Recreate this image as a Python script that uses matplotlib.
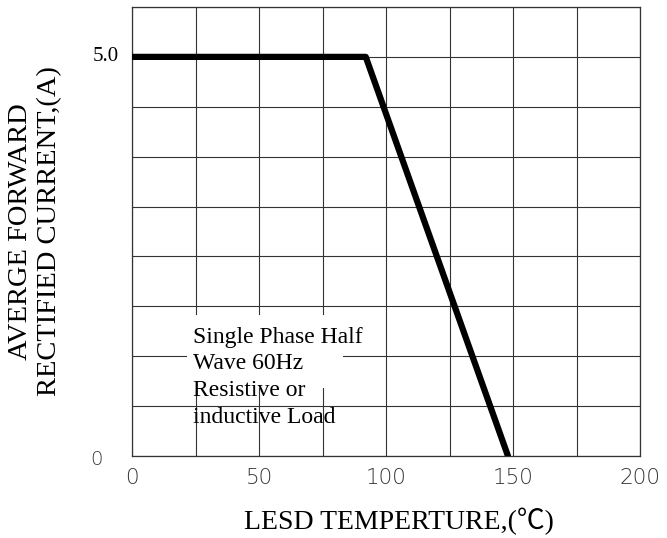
import matplotlib
matplotlib.use("Agg")
import matplotlib.pyplot as plt
from matplotlib.patches import Rectangle
from matplotlib.transforms import blended_transform_factory

# derating curve
temp = [0, 92, 148]
current = [5.0, 5.0, 0.0]

x_ticks = [0, 50, 100, 150, 200]
x_grid = [0, 25, 50, 75, 100, 125, 150, 175, 200]
y_grid = [0.625 * i for i in range(10)]
y_labels = {5.0: "5.0", 0.0: "0"}

note_lines = ["Single Phase Half", "Wave 60Hz", "Resistive or", "inductive Load"]

serif = ["Liberation Serif", "Noto Sans CJK SC", "DejaVu Sans"]
thin = "DejaVu Sans"

fig = plt.figure(figsize=(6.67, 5.38), dpi=100)
ax = fig.add_axes([0.198, 0.1524, 0.7616, 0.8346])

ax.set_xlim(0, 200)
ax.set_ylim(0, 5.625)
ax.set_xticks(x_grid)
ax.set_yticks(y_grid)
ax.grid(True, color="#333333", linewidth=0.8)
ax.tick_params(length=0, labelleft=False, labelbottom=False)
for s in ax.spines.values():
    s.set_color("#333333")
    s.set_linewidth(0.9)

ax.plot(temp, current, color="black", linewidth=4.5, solid_capstyle="round", zorder=5)

# x tick labels
for t in x_ticks:
    ax.text(t, -0.28, str(t), ha="center", va="center", fontsize=15.5,
            family=thin, fontweight="light", color="#333333")

# y tick labels
tr = blended_transform_factory(ax.transAxes, ax.transData)
ax.text(-0.027, 5.0, y_labels[5.0], transform=tr, ha="right", va="center",
        fontsize=15, family=serif)
ax.text(-0.057, -0.04, y_labels[0.0], transform=tr, ha="right", va="center",
        fontsize=14, family=thin, fontweight="light", color="#333333")

# axis titles
fig.text(0.598, 0.030, "LESD TEMPERTURE,(\u2103)", ha="center", va="center",
         fontsize=20, family=serif)
fig.text(0.030, 0.57, "AVERGE FORWARD", rotation=90, ha="center", va="center",
         fontsize=20.5, family=serif)
fig.text(0.075, 0.57, "RECTIFIED CURRENT,(A)", rotation=90, ha="center", va="center",
         fontsize=20.5, family=serif)

# note, white patch behind the first two lines
ax.add_patch(Rectangle((21.7, 0.852), 61.4, 0.914, facecolor="white",
                       edgecolor="none", zorder=3))
for i, line in enumerate(note_lines):
    ax.text(24.0, 1.419 - i * 0.334, line, ha="left", va="baseline",
            fontsize=17, family=serif, zorder=4)

fig.savefig("out.png", dpi=100)
